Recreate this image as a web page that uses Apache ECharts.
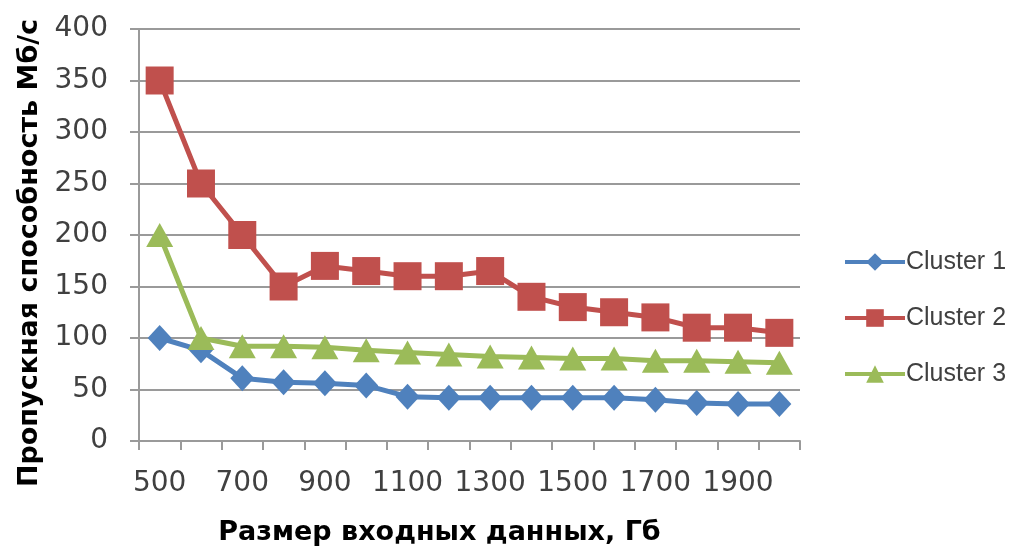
<!DOCTYPE html>
<html>
<head>
<meta charset="utf-8">
<script src="https://cdn.jsdelivr.net/npm/echarts@6/dist/echarts.min.js"></script>
<style>
  html, body { margin: 0; padding: 0; background: #ffffff; }
  #chart { width: 1011px; height: 551px; }
</style>
</head>
<body>
<div id="chart"></div>
<script>
// Input size, GB
const sizes = ['500', '600', '700', '800', '900', '1000', '1100', '1200',
               '1300', '1400', '1500', '1600', '1700', '1800', '1900', '2000'];

// Throughput, MB/s
const cluster1 = [100, 88, 61, 57, 56, 54, 43, 42, 42, 42, 42, 42, 40, 37, 36, 36];
const cluster2 = [350, 250, 200, 150, 170, 165, 160, 160, 165, 140, 130, 125, 120, 110, 110, 105];
const cluster3 = [200, 100, 92, 92, 91, 88, 86, 84, 82, 81, 80, 80, 78, 78, 77, 76];

const seriesNames = ['Cluster 1', 'Cluster 2', 'Cluster 3'];
const yTicks = { min: 0, max: 400, step: 50 };
const xTitle = 'Размер входных данных, Гб';
const yTitle = 'Пропускная способность Мб/с';

const colors = ['#4F81BD', '#C0504D', '#9BBB59'];
const gray = '#9a9a9a';
const labelColor = '#404040';
const titleFont = '"DejaVu Sans", sans-serif';

const chart = echarts.init(document.getElementById('chart'), null, { renderer: 'canvas' });

function lineSeries(name, data, symbol, size, color) {
  return {
    name: name,
    type: 'line',
    data: data,
    symbol: symbol,
    symbolSize: size,
    showAllSymbol: true,
    lineStyle: { color: color, width: 5 },
    itemStyle: { color: color, borderWidth: 0 },
    emphasis: { disabled: true },
    animation: false
  };
}

chart.setOption({
  animation: false,
  color: colors,
  grid: { left: 139, right: 211, top: 29, bottom: 103, containLabel: false },
  legend: {
    orient: 'vertical',
    left: 838,
    top: 241,
    itemWidth: 60,
    itemHeight: 22,
    itemGap: 24,
    data: seriesNames,
    lineStyle: { width: 4 },
    textStyle: {
      fontFamily: '"Liberation Sans", Arial, sans-serif',
      fontSize: 25,
      color: labelColor,
      lineHeight: 32,
      padding: [0, 0, 0, -4]
    }
  },
  graphic: [{
    type: 'text',
    x: 30,
    y: 253,
    rotation: Math.PI / 2,
    silent: true,
    style: {
      text: yTitle,
      fontFamily: titleFont,
      fontWeight: 'bold',
      fontSize: 27,
      fill: '#000000',
      align: 'center',
      verticalAlign: 'middle'
    }
  }],
  xAxis: {
    type: 'category',
    data: sizes,
    boundaryGap: true,
    name: xTitle,
    nameLocation: 'middle',
    nameGap: 78,
    nameTextStyle: {
      fontFamily: titleFont,
      fontWeight: 'bold',
      fontSize: 27,
      color: '#000000',
      padding: [0, 60, 0, 0]
    },
    axisLine: { lineStyle: { color: gray, width: 2 } },
    axisTick: { show: true, interval: 0, length: 9, lineStyle: { color: gray, width: 2 } },
    axisLabel: {
      interval: 1,
      margin: 29,
      fontFamily: '"DejaVu Sans", sans-serif',
      fontSize: 28,
      color: labelColor
    },
    splitLine: { show: false }
  },
  yAxis: {
    type: 'value',
    min: yTicks.min,
    max: yTicks.max,
    interval: yTicks.step,
    axisLine: { show: true, lineStyle: { color: gray, width: 2 } },
    axisTick: { show: true, length: 9, lineStyle: { color: gray, width: 2 } },
    axisLabel: {
      margin: 31,
      fontFamily: '"DejaVu Sans", sans-serif',
      fontSize: 28,
      color: labelColor
    },
    splitLine: { show: true, lineStyle: { color: gray, width: 2 } }
  },
  series: [
    lineSeries(seriesNames[0], cluster1, 'diamond', [24, 26], colors[0]),
    lineSeries(seriesNames[1], cluster2, 'rect', 28, colors[1]),
    lineSeries(seriesNames[2], cluster3, 'triangle', [27, 24], colors[2])
  ]
});
</script>
</body>
</html>
